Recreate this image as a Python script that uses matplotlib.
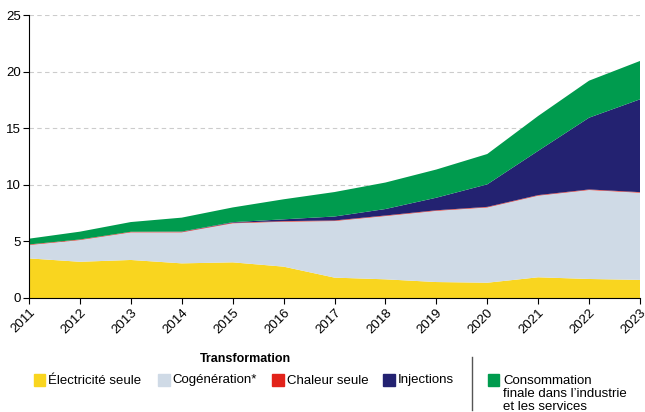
import numpy as np
import matplotlib
matplotlib.use("Agg")
import matplotlib.pyplot as plt
from matplotlib.patches import Rectangle
from matplotlib.lines import Line2D

plt.rcParams['font.family'] = ['Liberation Sans', 'DejaVu Sans']

years = np.arange(2011, 2024)
electricite = [3.5, 3.2, 3.36, 3.06, 3.15, 2.77, 1.8, 1.65, 1.41, 1.35, 1.83, 1.68, 1.6]
cogeneration = [1.18, 1.92, 2.44, 2.74, 3.45, 3.97, 5.0, 5.59, 6.29, 6.65, 7.21, 7.86, 7.7]
chaleur = [0.05, 0.05, 0.05, 0.05, 0.05, 0.05, 0.05, 0.05, 0.05, 0.05, 0.05, 0.05, 0.05]
injections = [0.0, 0.0, 0.0, 0.02, 0.05, 0.16, 0.35, 0.57, 1.11, 1.99, 3.91, 6.34, 8.2]
consommation = [0.51, 0.69, 0.86, 1.23, 1.3, 1.77, 2.16, 2.34, 2.49, 2.68, 3.08, 3.27, 3.39]

colors = ['#f9d51f', '#cfdae6', '#e2231a', '#232271', '#009b4e']
labels = ['Électricité seule', 'Cogénération*', 'Chaleur seule', 'Injections']

fig = plt.figure(figsize=(6.45, 4.12), dpi=100)
ax = fig.add_axes([29/645, 1-298/412, 611/645, 283/412])

ax.stackplot(years, electricite, cogeneration, chaleur, injections, consommation,
             colors=colors, linewidth=0, zorder=2)

ax.set_xlim(2011, 2023)
ax.set_ylim(0, 25)
ax.set_yticks([0, 5, 10, 15, 20, 25])
ax.set_xticks(years)
ax.set_xticklabels([str(y) for y in years], rotation=45, ha='right',
                   rotation_mode='anchor', fontsize=9.5)
ax.tick_params(axis='y', labelsize=9.5, length=4, width=0.8, pad=2)
ax.tick_params(axis='x', length=4, width=0.8, pad=2)
ax.yaxis.grid(True, linestyle=(0, (4, 3)), color='#cccccc', linewidth=0.8, zorder=0)
ax.set_axisbelow(True)
for s in ['top', 'right']:
    ax.spines[s].set_visible(False)
ax.spines['left'].set_linewidth(0.8)
ax.spines['bottom'].set_linewidth(0.8)
ax.spines['bottom'].set_zorder(3)

# legend drawn by hand
def fx(px):
    return px / 645

def fy(py):
    return 1 - py / 412

fig.text(fx(245), fy(359), 'Transformation', ha='center', va='center',
         fontsize=9, fontweight='bold')

sq_x = [34, 158, 272, 383]
tx_x = [48, 172, 287, 398]
for i in range(4):
    fig.patches.append(Rectangle((fx(sq_x[i]), fy(386)), 11.5/645, 12/412,
                                 transform=fig.transFigure, color=colors[i]))
    fig.text(fx(tx_x[i]), fy(380.5), labels[i], ha='left', va='center', fontsize=9.5)

fig.lines.append(Line2D([fx(472), fx(472)], [fy(357), fy(410)],
                        transform=fig.transFigure, color='#555555', linewidth=1))

fig.patches.append(Rectangle((fx(487.5), fy(386)), 11.5/645, 12/412,
                             transform=fig.transFigure, color=colors[4]))
fig.text(fx(503), fy(374.5), 'Consommation\nfinale dans l\u2019industrie\net les services',
         ha='left', va='top', fontsize=9.5, linespacing=1.15)

fig.savefig('out.png', dpi=100)
